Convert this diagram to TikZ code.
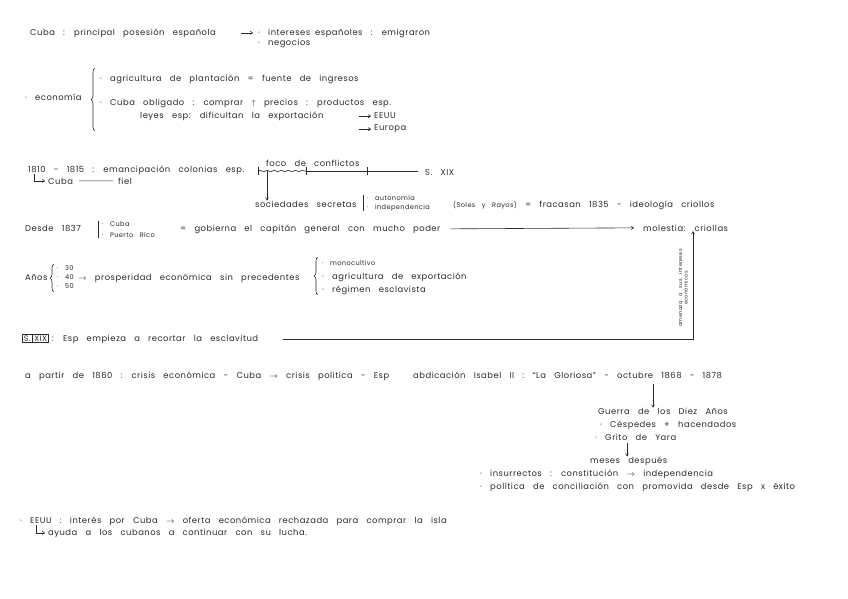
\documentclass[tikz,border=0pt]{standalone}
\usepackage{fontspec}
\setmainfont{Poppins}[WordSpace=3,LetterSpace=6]
\usetikzlibrary{decorations.pathreplacing,decorations.pathmorphing,arrows.meta}
\definecolor{ink}{HTML}{2a2a2a}
\tikzset{
  txt/.style={inner sep=0pt, anchor=base west, text=ink, font=\fontsize{8.4}{9}\selectfont},
  small/.style={txt, font=\fontsize{6.6}{7.5}\selectfont},
  ln/.style={draw=ink, line width=0.6pt},
  arr/.style={ln, -{To[length=3pt,width=3.5pt]}},
  lbrace/.style={ln, decorate, decoration={brace, amplitude=4pt}},
  bar/.style={ln},
  boxed/.style={draw=ink, line width=0.6pt, inner sep=1.5pt, text=ink, font=\fontsize{8}{9}\selectfont, anchor=base west},
}
\begin{document}
\begin{tikzpicture}[x=1pt,y=-1pt]
\useasboundingbox (0,0) rectangle (848,599);
% line 1
\node[txt] (l1) at (30,36) {Cuba : principal posesión española};
\node[txt] (int) at (258,36) {· intereses};
\node[txt] (esp) at (315,36) {españoles : emigraron};
\node[txt] (neg) at (258,46) {· negocios};
\draw[arr] ([xshift=-17pt]int.west) -- ([xshift=-5pt]int.west);
% economia
\node[txt] (eco) at (25,101) {· economía};
\draw[lbrace] (95,131) -- (95,68);
\node[txt] (agr) at (100,82) {· agricultura de plantación = fuente de ingresos};
\node[txt] (obl) at (100,106) {· Cuba obligado : comprar $\uparrow$ precios : productos esp.};
\node[txt] (ley) at (140,119) {leyes esp: dificultan la exportación};
\node[txt] (eeuu) at (374,119) {EEUU};
\node[txt] (eur) at (374,131) {Europa};
\draw[arr] ([xshift=-15pt]eeuu.west) -- ([xshift=-3pt]eeuu.west);
\draw[arr] ([xshift=-15pt]eur.west) -- ([xshift=-3pt]eur.west);
% 1810
\node[txt] (t1810) at (28,172) {1810 - 1815 : emancipación colonias esp.};
\node[txt] (cubaf) at (48,184) {Cuba};
\node[txt] (fiel) at (118,184) {fiel};
\draw[ln] ([xshift=6pt]cubaf.east) -- ([xshift=-5pt]fiel.west);
\draw[arr] ([xshift=6pt]t1810.south west) |- ([xshift=-3pt]cubaf.west);
% timeline
\coordinate (ta) at (258,171);
\coordinate (tb) at (306,171);
\coordinate (tc) at (367,171);
\coordinate (te) at (418,171);
\draw[ln, decorate, decoration={snake, amplitude=0.8pt, segment length=7pt}] (ta) -- (tb);
\draw[ln] (tb) -- (te);
\foreach \p in {ta,tb,tc} \draw[ln] ([yshift=4pt]\p) -- ([yshift=-4pt]\p);
\node[txt] (foco) at (266,166) {foco de conflictos};
\node[txt] (sxix) at (425,175) {S. XIX};
\node[txt] (soc) at (255,207) {sociedades secretas};
\coordinate (socx) at ([xshift=12pt]soc.north west);
\draw[arr] (ta -| socx) -- (socx);
\draw[bar] (363,195) -- (363,211);
\node[small] (aut) at (367,200) {· autonomía};
\node[small] (ind) at (367,209) {· independencia};
\node[txt] (soles) at (453,207) {{\fontsize{6.6}{7}\selectfont (Soles y Rayos)} = fracasan 1835 - ideología criollos};
% desde 1837
\node[txt] (desde) at (25,231) {Desde 1837};
\draw[bar] (98,221) -- (98,238);
\node[small] (dc) at (102,226) {· Cuba};
\node[small] (dp) at (102,237) {· Puerto Rico};
\node[txt] (gob) at (180,231) {= gobierna el capitán general con mucho poder};
\node[txt] (mol) at (643,231) {molestia: criollas};
\draw[arr] ([xshift=10pt]gob.east) -- ([xshift=-9pt]mol.west);
% anos
\node[txt] (anos) at (25,280) {Años};
\draw[lbrace] (54,292) -- (54,264);
\node[small] (a30) at (57,270) {· 30};
\node[small] (a40) at (57,279) {· 40};
\node[small] (a50) at (57,288) {· 50};
\node[txt] (pros) at (78,280) {$\rightarrow$ prosperidad económica sin precedentes};
\draw[lbrace] (318,295) -- (318,257);
\node[small] (mono) at (322,265) {· monocultivo};
\node[txt] (agx) at (322,279) {· agricultura de exportación};
\node[txt] (reg) at (322,292) {· régimen esclavista};
% S XIX
\node[boxed] (sb1) at (22,341) {S.};
\node[boxed, anchor=base west] (sb2) at (sb1.base east) {XIX};
\node[txt] (rec) at ([xshift=3pt]sb2.base east) {: Esp empieza a recortar la esclavitud};
\coordinate (corner) at (693,339);
\coordinate (recx) at ([xshift=25pt]rec.east);
\draw[arr] (recx |- corner) -- (corner) -- (corner |- mol.south);
\node[inner sep=0pt, text=ink, rotate=90, align=center, font=\fontsize{5}{5.5}\selectfont] (amen) at (683,288) {amenaza a sus intereses\\económicos};
% 1860
\node[txt] (partir) at (25,378) {a partir de 1860 : crisis económica - Cuba $\rightarrow$ crisis política - Esp};
\node[txt] (abd) at (413,378) {abdicación Isabel II : “La Gloriosa” - octubre 1868 - 1878};
\node[txt] (guerra) at (598,414) {Guerra de los Diez Años};
\coordinate (ga) at (653,384);
\draw[arr] (ga) -- (ga |- guerra.north);
\node[txt] (cesp) at (600,427) {· Céspedes + hacendados};
\node[txt] (grito) at (595,440) {· Grito de Yara};
\node[txt] (meses) at (590,463) {meses después};
\coordinate (gm) at (627,443);
\draw[arr] (gm) -- (gm |- meses.north);
\node[txt] (insu) at (480,476) {· insurrectos : constitución $\rightarrow$ independencia};
\node[txt] (poli) at (480,489) {· política de conciliación con promovida desde Esp x éxito};
% EEUU
\node[txt] (ee) at (20,523) {· EEUU : interés por Cuba $\rightarrow$ oferta económica rechazada para comprar la isla};
\node[txt] (ayu) at (48,535) {ayuda a los cubanos a continuar con su lucha.};
\draw[arr] ([xshift=16pt]ee.south west) |- ([xshift=-3pt]ayu.west);
\end{tikzpicture}
\end{document}
